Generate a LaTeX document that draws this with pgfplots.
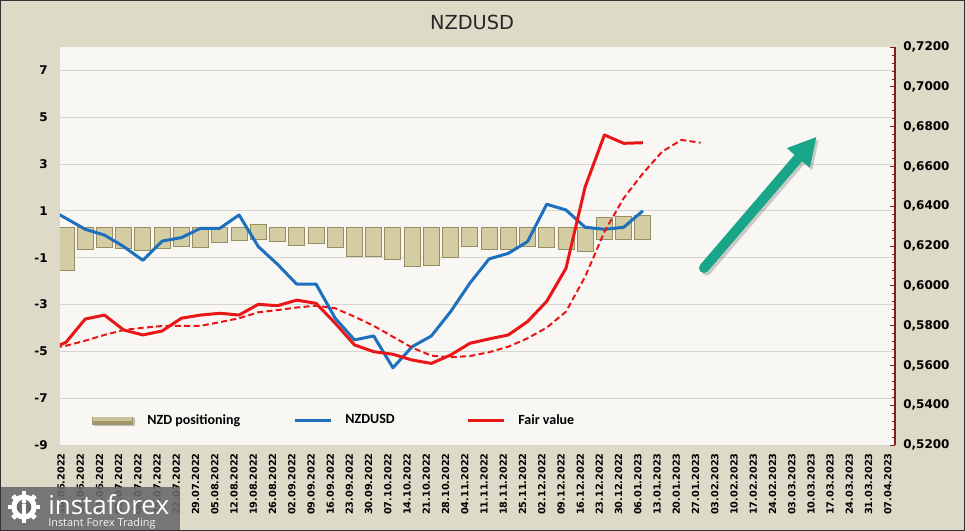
\documentclass[border=0pt]{standalone}
\usepackage{fontspec}
\setmainfont{DejaVu Sans}
\newfontfamily\carlito{Carlito}
\newfontfamily\opensans{Open Sans}
\usepackage{pgfplots}
\pgfplotsset{compat=1.18}
\usepackage{pgfplotstable}
\usetikzlibrary{arrows.meta}

\definecolor{chartbg}{RGB}{221,218,200}
\definecolor{plotbg}{RGB}{248,247,243}
\definecolor{gridgray}{RGB}{214,213,208}
\definecolor{barfill}{RGB}{212,205,164}
\definecolor{bardark}{RGB}{150,141,96}
\definecolor{legbar}{RGB}{160,152,106}
\definecolor{nzdblue}{RGB}{28,112,190}
\definecolor{fairred}{RGB}{232,22,22}
\definecolor{axisred}{RGB}{128,30,30}
\definecolor{arrowteal}{RGB}{24,165,136}
\definecolor{wmgray}{RGB}{105,105,105}

% positioning bars: invisible base + visible length
\pgfplotstableread{
i base len
0 0.3 -1.83
1 0.3 -0.95
2 0.3 -0.87
3 0.3 -0.91
4 0.3 -0.98
5 0.3 -0.91
6 0.3 -0.81
7 0.3 -0.87
8 0.3 -0.67
9 0.3 -0.58
10 -0.2 0.63
11 0.3 -0.62
12 0.3 -0.77
13 0.3 -0.70
14 0.3 -0.88
15 0.3 -1.26
16 0.3 -1.24
17 0.3 -1.36
18 0.3 -1.66
19 0.3 -1.62
20 0.3 -1.30
21 0.3 -0.80
22 0.3 -0.95
23 0.3 -0.95
24 0.3 -0.84
25 0.3 -0.88
26 0.3 -0.95
27 0.3 -1.02
28 -0.2 0.92
29 -0.2 0.97
30 -0.2 1.01
}\barsdata

\pgfplotstableread{
i nzd fair
-1 0.6394 0.5674
0 0.6339 0.5716
1 0.6284 0.5833
2 0.6255 0.5853
3 0.6197 0.5778
4 0.6128 0.5753
5 0.6225 0.5773
6 0.6242 0.5837
7 0.6289 0.5853
8 0.6289 0.5862
9 0.6356 0.5853
10 0.6197 0.5907
11 0.6108 0.5900
12 0.6008 0.5928
13 0.6009 0.5912
14 0.5837 0.5812
15 0.5728 0.5703
16 0.5748 0.5669
17 0.5588 0.5656
18 0.5694 0.5627
19 0.5748 0.5610
20 0.5870 0.5652
21 0.6013 0.5711
22 0.6135 0.5733
23 0.6163 0.5753
24 0.6222 0.5820
25 0.6410 0.5922
26 0.6381 0.6088
27 0.6294 0.6498
28 0.6284 0.6758
29 0.6294 0.6716
30 0.6377 0.6719
}\linedata

\pgfplotstableread{
i trend
-1 0.5683
0 0.5699
1 0.5724
2 0.5753
3 0.5778
4 0.5789
5 0.5798
6 0.5799
7 0.5799
8 0.5817
9 0.5837
10 0.5867
11 0.5878
12 0.5891
13 0.5900
14 0.5887
15 0.5845
16 0.5799
17 0.5744
18 0.5689
19 0.5649
20 0.5641
21 0.5647
22 0.5666
23 0.5694
24 0.5736
25 0.5790
26 0.5870
27 0.6046
28 0.6272
29 0.6440
30 0.6565
31 0.6674
32 0.6733
33 0.6719
}\trenddata

\begin{document}
\begin{tikzpicture}
\useasboundingbox (0,0) rectangle (723.75pt,-398.25pt);
\fill[chartbg] (0,0) rectangle (723.75pt,-398.25pt);
\node[font=\fontsize{14.5}{17}\selectfont, text=black!85] at (354pt,-16.5pt) {NZDUSD};

\begin{axis}[
  at={(45pt,-333.75pt)}, anchor=south west,
  scale only axis, width=626.25pt, height=298.5pt,
  xmin=-0.312, xmax=43.11, ymin=-9, ymax=8,
  enlargelimits=false,
  ybar stacked, stack negative=on previous, bar width=12pt,
  axis background/.style={fill=plotbg},
  axis line style={draw=none},
  major tick length=0pt,
  ytick={-9,-7,...,7},
  ymajorgrids, grid style={gridgray, line width=0.6pt},
  xtick={-0.26,0.74,...,42.74},
  xticklabels={10.06.2022,17.06.2022,24.06.2022,01.07.2022,08.07.2022,15.07.2022,22.07.2022,29.07.2022,05.08.2022,12.08.2022,19.08.2022,26.08.2022,02.09.2022,09.09.2022,16.09.2022,23.09.2022,30.09.2022,07.10.2022,14.10.2022,21.10.2022,28.10.2022,04.11.2022,11.11.2022,18.11.2022,25.11.2022,02.12.2022,09.12.2022,16.12.2022,23.12.2022,30.12.2022,06.01.2023,13.01.2023,20.01.2023,27.01.2023,03.02.2023,10.02.2023,17.02.2023,24.02.2023,03.03.2023,10.03.2023,17.03.2023,24.03.2023,31.03.2023,07.04.2023},
  /pgf/number format/assume math mode=true,
  yticklabel style={font=\bfseries\fontsize{9}{10}\selectfont, inner sep=0pt, anchor=east, xshift=-9pt},
  xticklabel style={font=\bfseries\fontsize{7.3}{8}\selectfont, inner sep=0pt, yshift=-6pt, rotate=90, anchor=east},
]
\addplot[draw=none, fill=none] table[x=i, y=base] {\barsdata};
\addplot[fill=barfill, draw=bardark, line width=0.7pt] table[x=i, y=len] {\barsdata};
\end{axis}

\begin{axis}[
  at={(45pt,-333.75pt)}, anchor=south west,
  scale only axis, width=626.25pt, height=298.5pt,
  xmin=-0.312, xmax=43.11, ymin=0.52, ymax=0.72,
  enlargelimits=false,
  axis x line=none, axis y line*=right,
  y axis line style={draw=axisred, line width=0.8pt, -},
  ytick={0.52,0.54,0.56,0.58,0.60,0.62,0.64,0.66,0.68,0.70,0.72},
  minor y tick num=4,
  tick align=inside,
  major tick length=4pt, minor tick length=2.5pt,
  tick style={axisred, line width=0.5pt},
  /pgf/number format/fixed,
  /pgf/number format/fixed zerofill,
  /pgf/number format/precision=4,
  /pgf/number format/use comma,
  /pgf/number format/assume math mode=true,
  yticklabel style={font=\bfseries\fontsize{9}{10}\selectfont, inner sep=0pt, anchor=west, xshift=6pt},
  legend columns=3,
  legend style={at={(0.0383,0.062)}, anchor=west, draw=none, fill=none, inner sep=0pt,
    font=\carlito\bfseries\fontsize{10.5}{12}\selectfont,
    nodes={inner sep=0pt},
    /tikz/every odd column/.append style={column sep=9.75pt}},
  legend image code/.code={\draw[#1] (0pt,0pt) -- (27pt,0pt);},
]
\addlegendimage{legend image code/.code={
  \fill[black!40, opacity=0.6] (1.2pt,-3.4pt) rectangle (31.2pt,1.6pt);
  \fill[legbar] (0pt,-2.6pt) rectangle (30pt,2.6pt);
  \fill[barfill!80!legbar] (0.6pt,0.2pt) rectangle (29.4pt,2pt);}}
\addlegendentry{\makebox[109.5pt][l]{NZD positioning}}
\addplot[nzdblue, line width=2.25pt, line join=round] table[x=i, y=nzd] {\linedata};
\addlegendentry{\makebox[90.75pt][l]{NZDUSD}}
\addplot[fairred, line width=2.25pt, line join=round] table[x=i, y=fair] {\linedata};
\addlegendentry{Fair value}
\addplot[fairred, line width=1.5pt, dash pattern=on 4.5pt off 2.5pt, forget plot] table[x=i, y=trend] {\trenddata};
\end{axis}

% trend arrow
\draw[black, opacity=0.18, line width=7.5pt, line cap=round, -{Triangle[length=21pt,width=21pt]}]
  (529.8pt,-203pt) -- (614.3pt,-104.5pt);
\draw[arrowteal, line width=7.5pt, line cap=round, -{Triangle[length=21pt,width=21pt]}]
  (528pt,-201pt) -- (612.5pt,-102.5pt);

% watermark
\fill[wmgray, opacity=0.88] (0pt,-365.25pt) rectangle (135pt,-398.25pt);
\foreach \a in {0,45,...,315}
  \fill[white, rotate around={\a:(18pt,-380.25pt)}] (16.2pt,-380.25pt) rectangle (19.8pt,-368.5pt);
\fill[white] (18pt,-380.25pt) circle (9.5pt);
\fill[wmgray] (18pt,-380.25pt) circle (5.5pt);
\fill[white] (18pt,-376pt) circle (1.8pt);
\fill[white] (16.8pt,-386pt) rectangle (19.2pt,-378pt);
\node[anchor=base west, inner sep=0pt, text=white, font=\opensans\fontsize{19.5}{20}\selectfont] at (36pt,-385.5pt) {instaforex};
\node[anchor=base west, inner sep=0pt, text=white!92!gray, font=\opensans\fontsize{8.2}{9}\selectfont] at (36pt,-394.5pt) {Instant Forex Trading};

\draw[black!80, line width=1pt] (0.5pt,-0.5pt) rectangle (723.25pt,-397.75pt);
\end{tikzpicture}
\end{document}
